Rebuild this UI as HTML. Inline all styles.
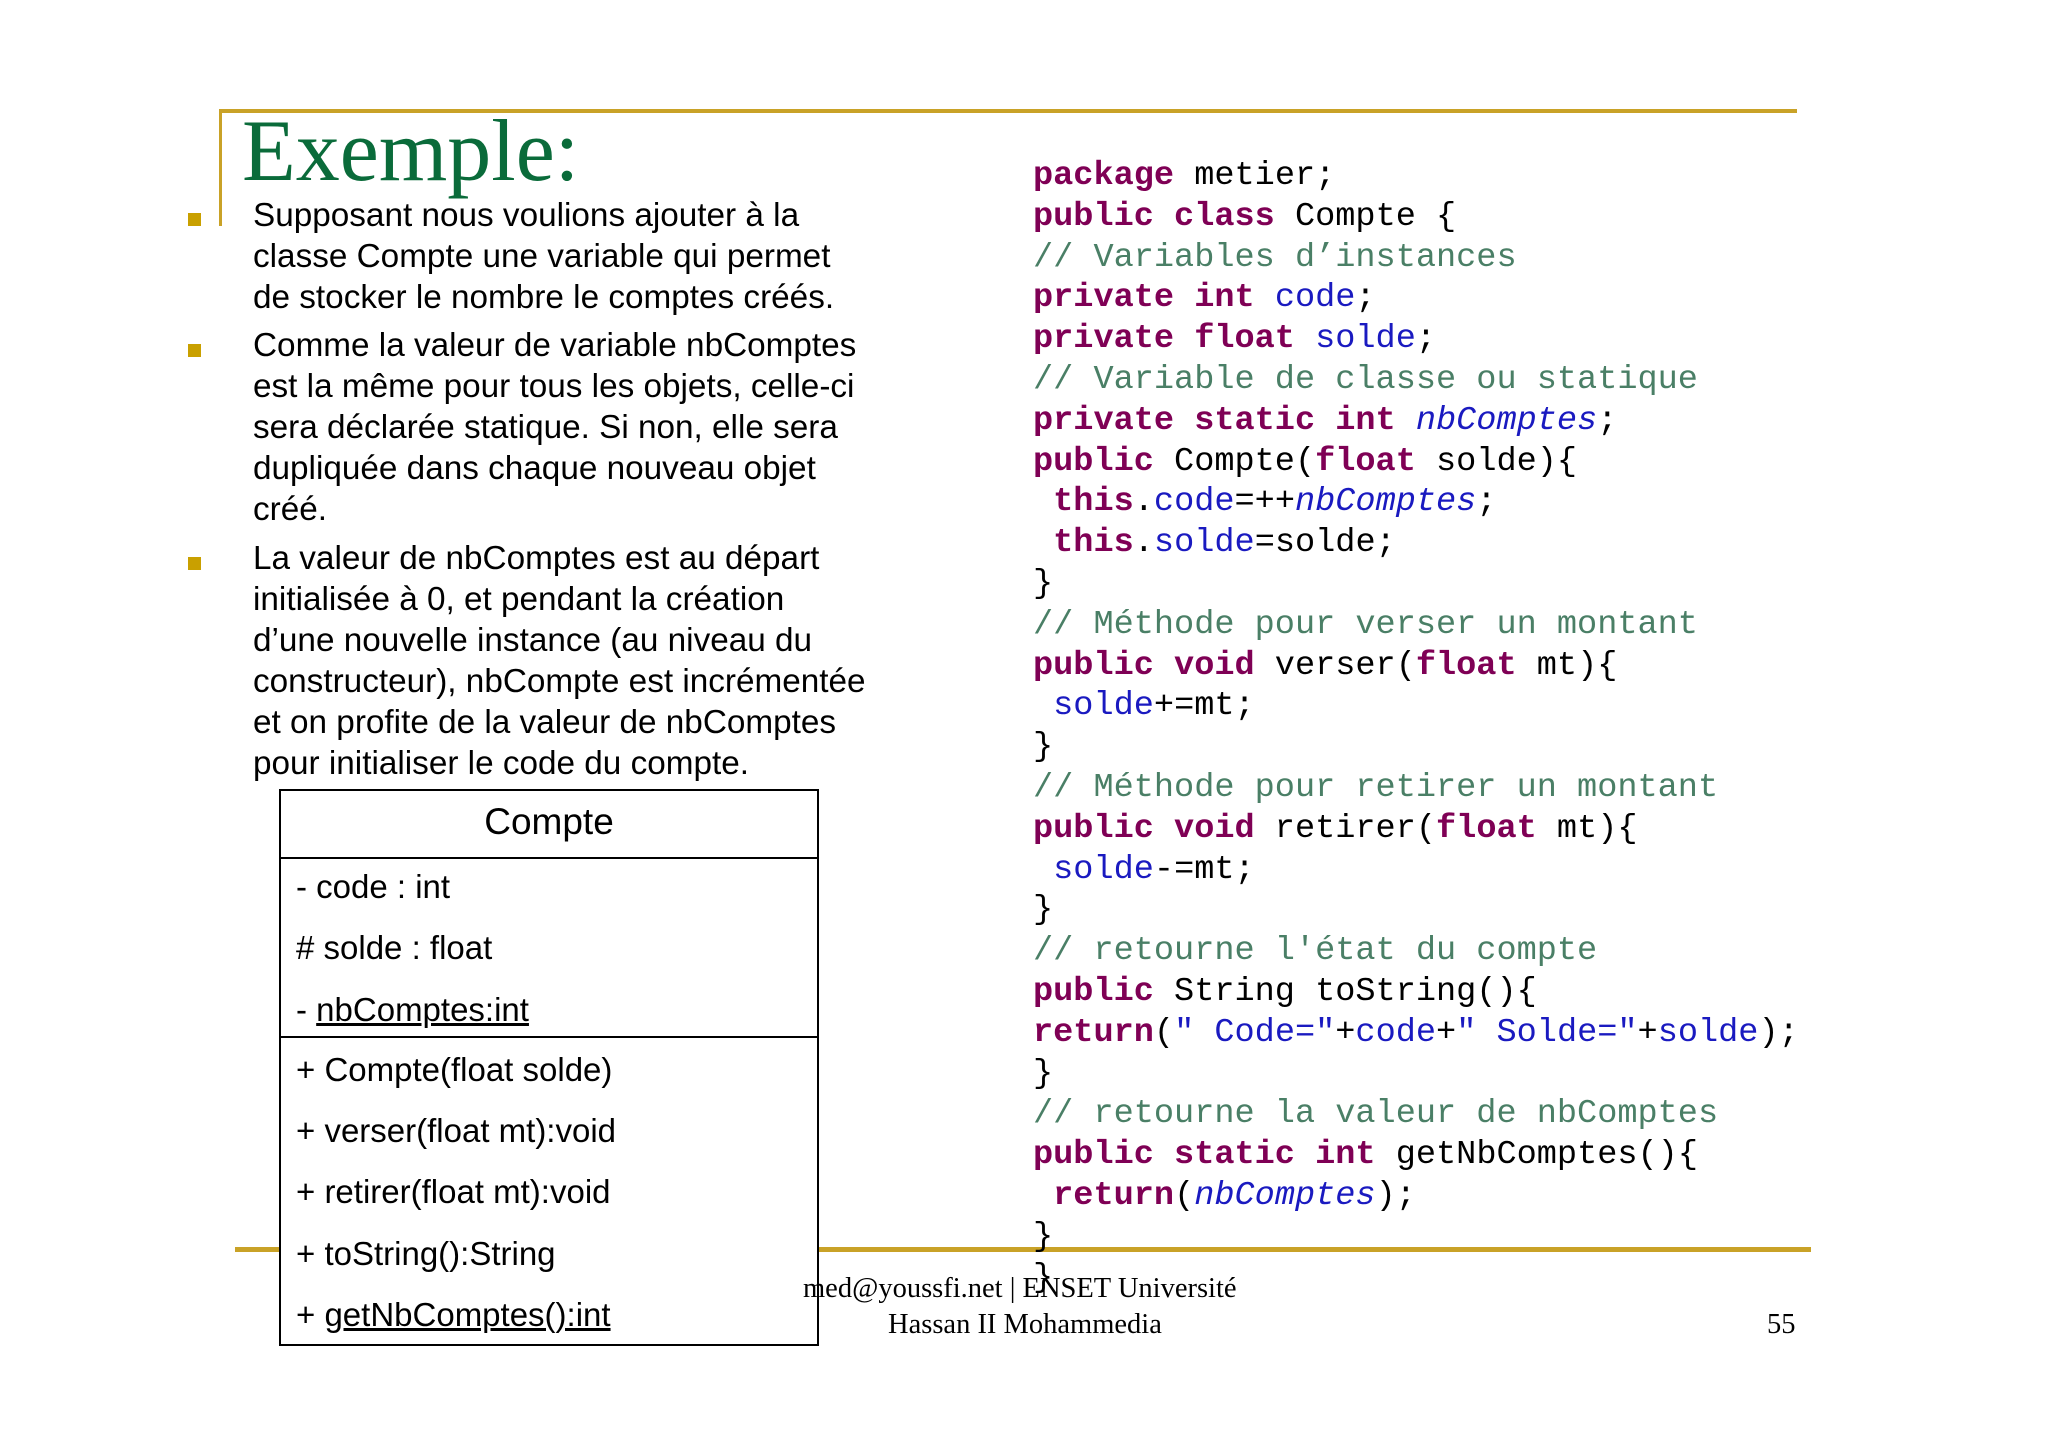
<!DOCTYPE html>
<html><head><meta charset="utf-8"><style>
body{margin:0;width:2048px;height:1447px;background:#fff;position:relative;overflow:hidden}
.a{position:absolute;white-space:pre}
.t{font-family:"Liberation Sans",sans-serif;font-size:33.3px;color:#000;left:253px}
.c{font-family:"Liberation Mono",monospace;font-size:33.6px;color:#000;left:1033px}
.k{color:#7f0055;font-weight:bold}
.m{color:#4a7f66}
.f{color:#1a1ac0}
.i{color:#1a1ac0;font-style:italic}
.b{position:absolute;width:13px;height:13px;background:#c9a000;left:188px}
.u{font-family:"Liberation Sans",sans-serif;font-size:33px;color:#000;left:296px}
.s{font-family:"Liberation Serif",serif;font-size:28.5px;color:#000}
</style></head><body>
<div style="position:absolute;left:219px;top:109px;width:1578px;height:4px;background:#c9a227"></div>
<div style="position:absolute;left:219px;top:109px;width:3px;height:117px;background:#c9a227"></div>
<div style="position:absolute;left:235px;top:1247px;width:1576px;height:5px;background:#c9a227"></div>
<div class="a" style="left:242px;top:102px;font-family:'Liberation Serif',serif;font-size:88px;color:#0a6b3a;line-height:100px">Exemple:</div>
<div class="b" style="top:213px"></div><div class="b" style="top:344px"></div><div class="b" style="top:557px"></div>
<div class="a t" style="top:195px;line-height:41px">Supposant nous voulions ajouter à la
classe Compte une variable qui permet
de stocker le nombre le comptes créés.</div>
<div class="a t" style="top:325px;line-height:41px">Comme la valeur de variable nbComptes
est la même pour tous les objets, celle-ci
sera déclarée statique. Si non, elle sera
dupliquée dans chaque nouveau objet
créé.</div>
<div class="a t" style="top:538px;line-height:41px">La valeur de nbComptes est au départ
initialisée à 0, et pendant la création
d’une nouvelle instance (au niveau du
constructeur), nbCompte est incrémentée
et on profite de la valeur de nbComptes
pour initialiser le code du compte.</div>
<div class="a c" style="top:156px;line-height:40.8px"><span class="k">package</span> metier;
<span class="k">public class</span> Compte {
<span class="m">// Variables d’instances</span>
<span class="k">private int</span> <span class="f">code</span>;
<span class="k">private float</span> <span class="f">solde</span>;
<span class="m">// Variable de classe ou statique</span>
<span class="k">private static int</span> <span class="i">nbComptes</span>;
<span class="k">public</span> Compte(<span class="k">float</span> solde){
 <span class="k">this</span>.<span class="f">code</span>=++<span class="i">nbComptes</span>;
 <span class="k">this</span>.<span class="f">solde</span>=solde;
}
<span class="m">// Méthode pour verser un montant</span>
<span class="k">public void</span> verser(<span class="k">float</span> mt){
 <span class="f">solde</span>+=mt;
}
<span class="m">// Méthode pour retirer un montant</span>
<span class="k">public void</span> retirer(<span class="k">float</span> mt){
 <span class="f">solde</span>-=mt;
}
<span class="m">// retourne l'état du compte</span>
<span class="k">public</span> String toString(){
<span class="k">return</span>(<span class="f">" Code="</span>+<span class="f">code</span>+<span class="f">" Solde="</span>+<span class="f">solde</span>);
}
<span class="m">// retourne la valeur de nbComptes</span>
<span class="k">public static int</span> getNbComptes(){
 <span class="k">return</span>(<span class="i">nbComptes</span>);
}
}</div>
<div style="position:absolute;left:279px;top:789px;width:536px;height:553px;border:2px solid #000;background:#fff"></div>
<div style="position:absolute;left:279px;top:857px;width:540px;height:2px;background:#000"></div>
<div style="position:absolute;left:279px;top:1036px;width:540px;height:2px;background:#000"></div>
<div class="a" style="left:279px;width:540px;text-align:center;top:801px;font-family:'Liberation Sans',sans-serif;font-size:37px">Compte</div>
<div class="a u" style="top:868px">- code : int</div>
<div class="a u" style="top:929px"># solde : float</div>
<div class="a u" style="top:991px">- <u>nbComptes:int</u></div>
<div class="a u" style="top:1051px">+ Compte(float solde)</div>
<div class="a u" style="top:1112px">+ verser(float mt):void</div>
<div class="a u" style="top:1173px">+ retirer(float mt):void</div>
<div class="a u" style="top:1235px">+ toString():String</div>
<div class="a u" style="top:1296px">+ <u>getNbComptes():int</u></div>
<div class="a s" style="left:803px;top:1273px">med@youssfi.net | ENSET Université</div>
<div class="a s" style="left:888px;top:1309px">Hassan II Mohammedia</div>
<div class="a s" style="left:1767px;top:1309px">55</div>
</body></html>
